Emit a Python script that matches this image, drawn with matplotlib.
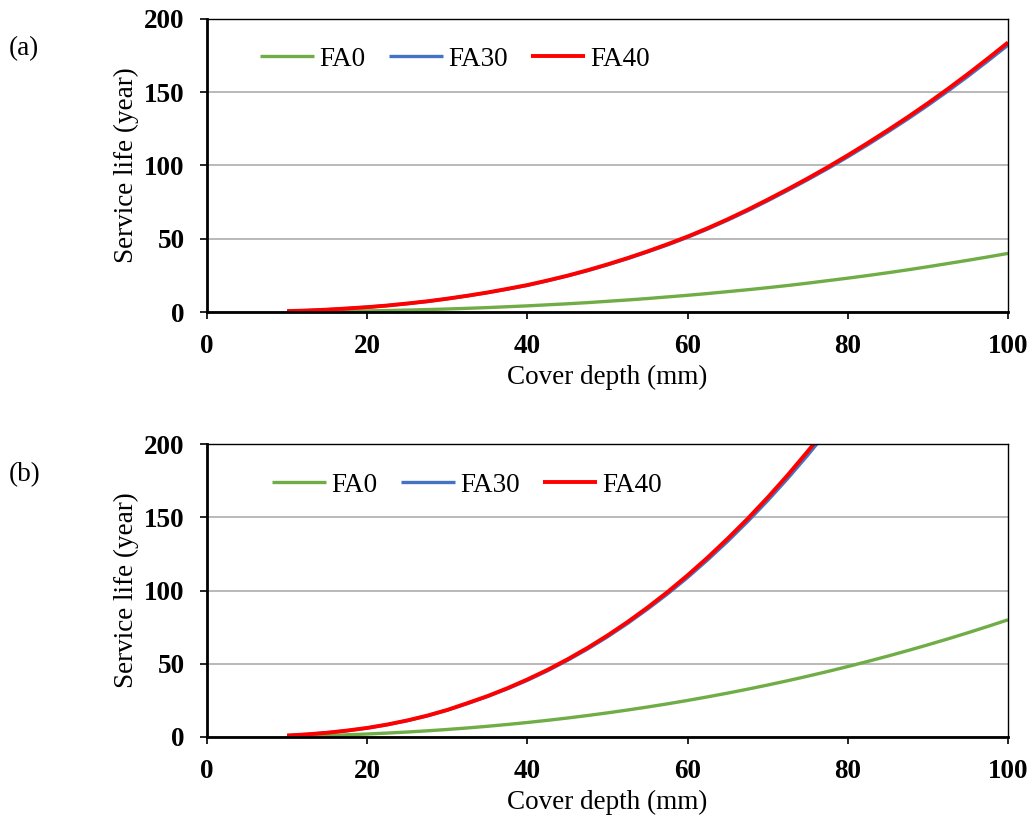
import matplotlib
matplotlib.use("Agg")
import matplotlib.pyplot as plt

plt.rcParams['font.family'] = ['Liberation Serif', 'DejaVu Serif']

# cover depth (mm), cada 2.5 mm
depth = [10, 12.5, 15, 17.5, 20, 22.5, 25, 27.5, 30, 32.5, 35, 37.5, 40, 42.5, 45, 47.5, 50,
         52.5, 55, 57.5, 60, 62.5, 65, 67.5, 70, 72.5, 75, 77.5, 80, 82.5, 85, 87.5, 90,
         92.5, 95, 97.5, 100]

# (a) service life (year)
a_fa0 = [0.13, 0.23, 0.36, 0.53, 0.75, 1.0, 1.3, 1.65, 2.05, 2.5, 3.0, 3.6, 4.2, 4.9, 5.6, 6.4, 7.3,
         8.2, 9.2, 10.3, 11.4, 12.6, 13.9, 15.2, 16.6, 18.1, 19.7, 21.4, 23.1, 24.9, 26.8, 28.8, 30.9,
         33.1, 35.3, 37.6, 40.0]
a_fa30 = [0.6, 1.0, 1.6, 2.4, 3.3, 4.4, 5.7, 7.2, 9.0, 11.0, 13.2, 15.6, 18.2, 21.3, 24.6, 28.2, 32.2,
          36.4, 41.0, 45.8, 51.0, 56.6, 62.7, 69.1, 75.9, 83.0, 90.3, 97.9, 105.9, 114.2, 122.9, 131.8, 141.1,
          150.8, 160.9, 171.4, 182.2]
a_fa40 = [0.6, 1.0, 1.6, 2.4, 3.3, 4.4, 5.8, 7.3, 9.1, 11.1, 13.3, 15.8, 18.4, 21.5, 24.8, 28.5, 32.5,
          36.8, 41.4, 46.3, 51.5, 57.2, 63.3, 69.8, 76.7, 83.8, 91.2, 98.9, 107.0, 115.4, 124.1, 133.1, 142.5,
          152.3, 162.5, 173.1, 184.0]

# (b) service life (year)
b_fa0 = [0.42, 0.70, 1.06, 1.50, 2.04, 2.67, 3.39, 4.22, 5.14, 6.17, 7.30, 8.55, 9.90, 11.37, 12.95, 14.66, 16.47,
         18.41, 20.47, 22.65, 24.96, 27.40, 29.96, 32.65, 35.48, 38.43, 41.52, 44.74, 48.10, 51.60, 55.23, 59.00, 62.92,
         66.97, 71.17, 75.52, 80.0]
# FA30 y FA40 salen del grafico (>200) a partir de ~76 mm
b_fa30 = [1.0, 1.8, 2.9, 4.3, 6.1, 8.4, 11.2, 14.4, 18.3, 22.8, 27.6, 32.9, 38.7, 45.2, 52.3, 60.0, 68.4,
          77.5, 87.3, 97.7, 108.9, 120.9, 133.6, 147.1, 161.4, 176.5, 192.4, 209.2, 226.9]
b_fa40 = [1.0, 1.8, 2.9, 4.4, 6.2, 8.5, 11.3, 14.6, 18.5, 23.1, 27.9, 33.3, 39.3, 45.8, 53.0, 60.8, 69.3,
          78.5, 88.4, 99.0, 110.4, 122.5, 135.4, 149.0, 163.5, 178.8, 195.0, 212.0, 229.8]

series_names = ['FA0', 'FA30', 'FA40']
colores = ['#70AD47', '#4472C4', '#FF0000']

FS = 19.5
W, H = 1034, 816


def graficar_panel(ax, y_fa0, y_fa30, y_fa40, leg_x, leg_y):
    for ys, nombre, col, lw in zip([y_fa0, y_fa30, y_fa40], series_names, colores, [2.4, 2.4, 2.8]):
        ax.plot(depth[:len(ys)], ys, color=col, lw=lw, label=nombre, solid_capstyle='butt')
    ax.set_xlim(0, 100)
    ax.set_ylim(0, 200)
    ax.set_xticks([0, 20, 40, 60, 80, 100])
    ax.set_yticks([0, 50, 100, 150, 200])
    ax.grid(axis='y', color='#A6A6A6', lw=1.1)
    ax.set_axisbelow(True)
    for s in ax.spines.values():
        s.set_color('black')
        s.set_linewidth(1.0)
    ax.spines['left'].set_linewidth(2.0)
    ax.spines['bottom'].set_linewidth(2.0)
    ax.tick_params(axis='both', direction='out', length=5, width=1.2, labelsize=FS)
    ax.tick_params(axis='y', pad=11)
    ax.tick_params(axis='x', pad=10.5)
    for lab in ax.get_xticklabels() + ax.get_yticklabels():
        lab.set_fontweight('bold')
    ax.set_xlabel('Cover depth (mm)', fontsize=FS)
    ax.set_ylabel('Service life (year)', fontsize=FS)
    ax.xaxis.label.set_va('center')
    ax.xaxis.set_label_coords(0.5, -0.222)
    ax.yaxis.label.set_va('center')
    ax.yaxis.set_label_coords(-0.1, 0.5)
    ax.legend(loc='center left', bbox_to_anchor=(leg_x, leg_y), ncol=3, frameon=False,
              fontsize=FS, handlelength=2.0, handletextpad=0.2, columnspacing=0.85,
              borderpad=0, borderaxespad=0)


fig = plt.figure(figsize=(W / 100, H / 100), dpi=100)

# posiciones en pixeles del original
ax_a = fig.add_axes([207 / W, 1 - 312 / H, 801 / W, 293 / H])
ax_b = fig.add_axes([207 / W, 1 - 737 / H, 801 / W, 293 / H])

graficar_panel(ax_a, a_fa0, a_fa30, a_fa40, 0.066, 0.863)
graficar_panel(ax_b, b_fa0, b_fa30, b_fa40, 0.081, 0.860)

fig.text(9 / W, 1 - 49 / H, '(a)', fontsize=FS, ha='left', va='center')
fig.text(9 / W, 1 - 475 / H, '(b)', fontsize=FS, ha='left', va='center')

plt.savefig('out.png', dpi=100)
plt.close(fig)
